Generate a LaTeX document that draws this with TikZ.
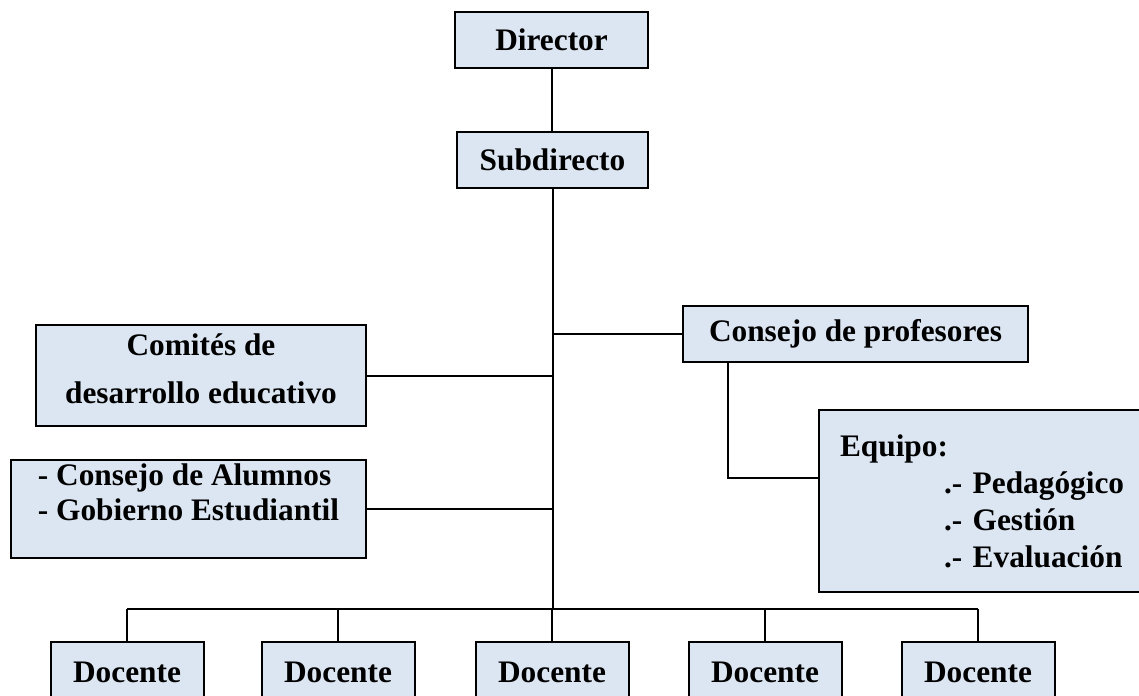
\documentclass[tikz,border=0pt]{standalone}
\usepackage{fontspec}
\setmainfont{Liberation Serif}
\definecolor{boxfill}{HTML}{DCE6F2}
\begin{document}
\begin{tikzpicture}[x=0.75pt,y=-0.75pt,
  box/.style={draw=black, fill=boxfill, line width=1.5pt, inner sep=0pt,
    font=\bfseries\fontsize{23.5}{28}\selectfont},
  wire/.style={draw=black, line width=1.5pt},
  docbox/.style={box, minimum width=114.75pt, minimum height=45pt}]
\clip (0,0) rectangle (1139,696);
\fill[white] (0,0) rectangle (1139,696);

\node[box, minimum width=144.75pt, minimum height=42pt] (dir) at (551.5,40) {Director};
\node[box, minimum width=143.25pt, minimum height=42pt] (sub) at (552.5,160) {Subdirecto};
\node[box, minimum width=258.75pt, minimum height=42pt] (cp) at (855.5,334) {Consejo de profesores};
\node[box, minimum width=247.5pt, minimum height=75.75pt, align=center, text depth=11pt,
  font=\bfseries\fontsize{23.5}{36}\selectfont] (com) at (201,375.5) {Comités de\\desarrollo educativo};
\node[box, minimum width=266.25pt, minimum height=73.5pt, align=left, text depth=25pt,
  font=\bfseries\fontsize{23.5}{26.25}\selectfont] (alu) at (188.5,509) {- Consejo de Alumnos\\- Gobierno Estudiantil};
\node[box, anchor=west, minimum height=136.5pt, inner xsep=15.75pt,
  text width=260pt, align=left,
  font=\bfseries\fontsize{23.5}{27.75}\selectfont] (eq) at (818,501)
  {Equipo:\\\hspace*{78pt}.- Pedagógico\\\hspace*{78pt}.- Gestión\\\hspace*{78pt}.- Evaluación};

\node[docbox] (d1) at (127,672) {Docente};
\node[docbox] (d2) at (338,672) {Docente};
\node[docbox] (d3) at (552,672) {Docente};
\node[docbox] (d4) at (765,672) {Docente};
\node[docbox] (d5) at (978,672) {Docente};

\coordinate (busL) at (127,609);
\coordinate (busR) at (978,609);
\coordinate (cpd) at (728,362);
\coordinate (eqin) at (818,478);

\draw[wire] (dir.south) -- (dir.south |- sub.north);
\draw[wire] (sub.south) -- (sub.south |- busL);
\draw[wire] (sub.south |- cp.west) -- (cp.west);
\draw[wire] (com.east) -- (com.east -| sub.south);
\draw[wire] (alu.east) -- (alu.east -| sub.south);
\draw[wire] (cpd) -- (cpd |- eqin) -- (eqin);
\draw[wire] (busL) -- (busR);
\foreach \d in {d1,d2,d3,d4,d5}{
  \draw[wire] (\d.north) -- (\d.north |- busL);
}
\end{tikzpicture}
\end{document}
